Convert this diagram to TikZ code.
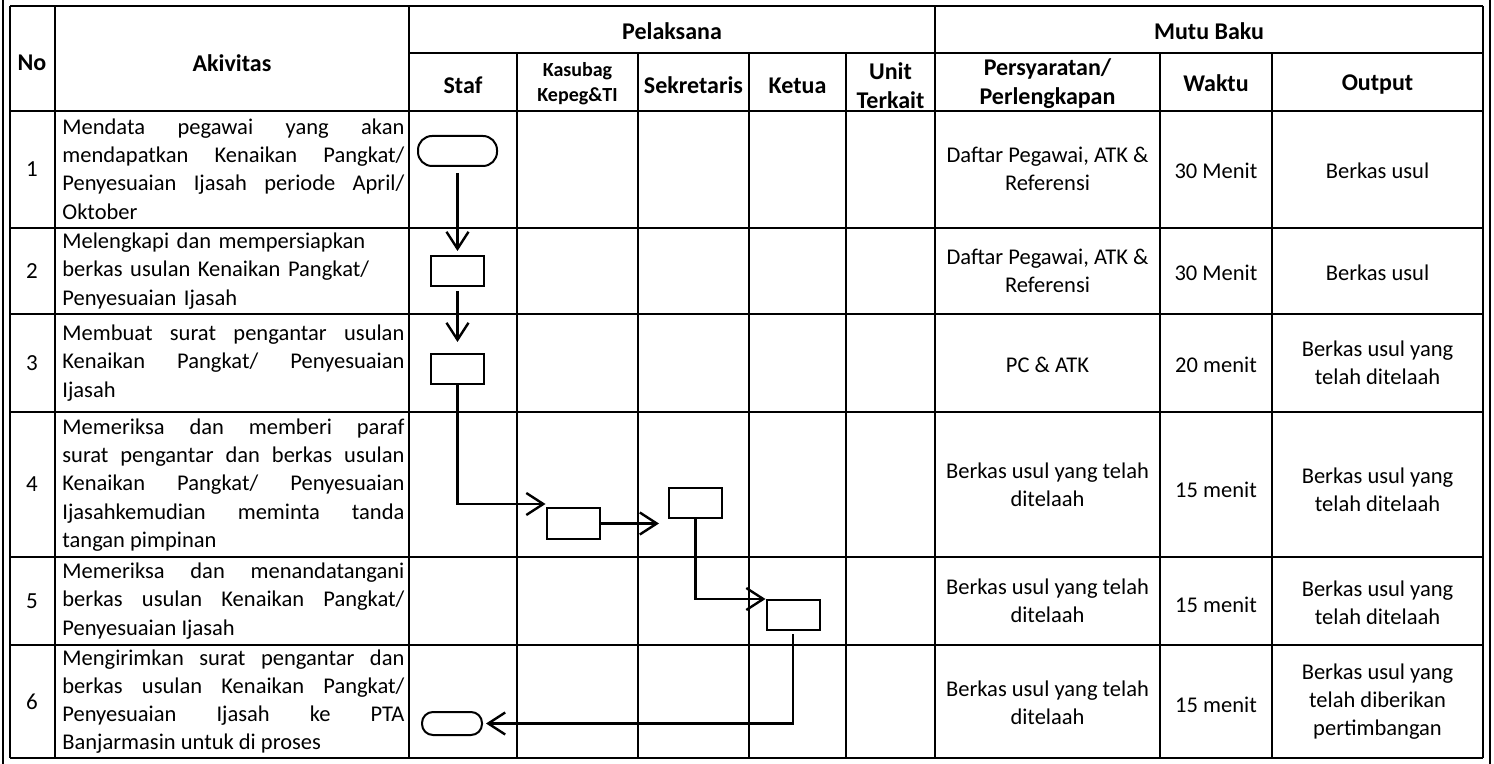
\documentclass[tikz,border=0pt]{standalone}
\usepackage{fontspec}
\setmainfont{Carlito}
\usetikzlibrary{arrows.meta}
\begin{document}
\begin{tikzpicture}[x=0.5pt,y=-0.5pt,
  gridline/.style={line width=1pt},
  hd/.style={font=\fontsize{12}{14.5}\selectfont\bfseries, align=center, inner sep=0pt},
  hdsmall/.style={font=\fontsize{10}{12.5}\selectfont\bfseries, align=center, inner sep=0pt},
  act/.style={font=\fontsize{11.25}{14.1}\selectfont, text width=171pt, align=justify, anchor=west, inner sep=0pt,
    execute at begin node={\tolerance=10000\hyphenpenalty=10000\hbadness=10000}},
  actl/.style={act, align=left},
  num/.style={font=\fontsize{11.5}{13.5}\selectfont, inner sep=0pt},
  cell/.style={font=\fontsize{11.25}{14}\selectfont, align=center, inner sep=0pt},
  proc/.style={draw, line width=1pt, minimum width=26.5pt, minimum height=15pt, inner sep=0pt},
  termA/.style={draw, line width=1pt, minimum width=39.5pt, minimum height=15pt, rounded corners=7pt, inner sep=0pt},
  termB/.style={draw, line width=1pt, minimum width=30pt, minimum height=11.5pt, rounded corners=5.5pt, inner sep=0pt},
  flow/.style={line width=1.2pt, -{Straight Barb[length=8.5pt,width=11pt]}}]
\useasboundingbox (0,0) rectangle (1494,764);
\fill[white] (0,0) rectangle (1494,764);
% outer page frame
\draw[gridline] (3,0) -- (3,764);
\draw[gridline] (1490,0) -- (1490,764);
% table grid
\foreach \yy in {6,111,228,314,412,557,645,758} \draw[gridline] (10,\yy) -- (1483,\yy);
\draw[gridline] (409,53) -- (1483,53);
\foreach \xx in {10,55,409,935,1483} \draw[gridline] (\xx,6) -- (\xx,758);
\foreach \xx in {517,638,749,846,1160,1272} \draw[gridline] (\xx,53) -- (\xx,758);
% headers
\node[hd] (hNo) at (32,63) {No};
\node[hd] (hAk) at (232,63) {Akivitas};
\node[hd] (hPel) at (672,31) {Pelaksana};
\node[hd] (hMut) at (1209,31) {Mutu Baku};
\node[hd] (hStaf) at (463,85) {Staf};
\node[hdsmall] (hKas) at (577.5,84) {Kasubag\\Kepeg\&TI};
\node[hd] (hSek) at (693.5,85) {Sekretaris};
\node[hd] (hKet) at (797.5,86) {Ketua};
\node[hd] (hUnit) at (890.5,86) {Unit\\Terkait};
\node[hd] (hPer) at (1047.5,84) {Persyaratan/\\Perlengkapan};
\node[hd] (hWak) at (1216,83) {Waktu};
\node[hd] (hOut) at (1377.5,85) {Output};
% numbers
\node[num] (n1) at (32,169) {1};
\node[num] (n2) at (32,271) {2};
\node[num] (n3) at (32,363) {3};
\node[num] (n4) at (32,484.5) {4};
\node[num] (n5) at (32,601) {5};
\node[num] (n6) at (32,701.5) {6};
% activities
\node[act] (a1) at (62,169) {Mendata pegawai yang akan\linebreak mendapatkan Kenaikan Pangkat/\linebreak Penyesuaian Ijasah periode April/\linebreak Oktober};
\node[actl] (a2) at (62,271) {Melengkapi dan mempersiapkan\\berkas usulan Kenaikan Pangkat/\\Penyesuaian Ijasah};
\node[act] (a3) at (62,363) {Membuat surat pengantar usulan\linebreak Kenaikan Pangkat/ Penyesuaian\linebreak Ijasah};
\node[act] (a4) at (62,485) {Memeriksa dan memberi paraf\linebreak surat pengantar dan berkas usulan\linebreak Kenaikan Pangkat/ Penyesuaian\linebreak Ijasahkemudian meminta tanda\linebreak tangan pimpinan};
\node[act] (a5) at (62,601) {Memeriksa dan menandatangani\linebreak berkas usulan Kenaikan Pangkat/\linebreak Penyesuaian Ijasah};
\node[act] (a6) at (62,701.5) {Mengirimkan surat pengantar dan\linebreak berkas usulan Kenaikan Pangkat/\linebreak Penyesuaian Ijasah ke PTA\linebreak Banjarmasin untuk di proses};
% mutu baku
\node[cell] (p1) at (1047.5,169) {Daftar Pegawai, ATK \&\\Referensi};
\node[cell] (w1) at (1216,171) {30 Menit};
\node[cell] (o1) at (1377.5,171) {Berkas usul};
\node[cell] (p2) at (1047.5,271) {Daftar Pegawai, ATK \&\\Referensi};
\node[cell] (w2) at (1216,273) {30 Menit};
\node[cell] (o2) at (1377.5,273) {Berkas usul};
\node[cell] (p3) at (1047.5,365) {PC \& ATK};
\node[cell] (w3) at (1216,365) {20 menit};
\node[cell] (o3) at (1377.5,363) {Berkas usul yang\\telah ditelaah};
\node[cell] (p4) at (1047.5,485) {Berkas usul yang telah\\ditelaah};
\node[cell] (w4) at (1216,490) {15 menit};
\node[cell] (o4) at (1377.5,490) {Berkas usul yang\\telah ditelaah};
\node[cell] (p5) at (1047.5,601) {Berkas usul yang telah\\ditelaah};
\node[cell] (w5) at (1216,605) {15 menit};
\node[cell] (o5) at (1377.5,603) {Berkas usul yang\\telah ditelaah};
\node[cell] (p6) at (1047.5,703) {Berkas usul yang telah\\ditelaah};
\node[cell] (w6) at (1216,705) {15 menit};
\node[cell] (o6) at (1377.5,701.5) {Berkas usul yang\\telah diberikan\\pertimbangan};
% flow shapes
\node[termA] (t1) at (457.5,151) {};
\node[proc] (b2) at (457.5,271) {};
\node[proc] (b3) at (457.5,369) {};
\node[proc, minimum height=15.5pt] (b4) at (573,523.5) {};
\node[proc] (b5) at (695.5,503) {};
\node[proc] (b6) at (793,615) {};
\node[termB] (t6) at (452,723.5) {};
% connectors
\draw[flow, shorten <=3pt, shorten >=2pt] (t1.south) -- (b2.north);
\draw[flow, shorten <=2pt, shorten >=5.5pt] (b2.south) -- (b3.north);
\draw[flow] (b3.south) |- ([yshift=1.5pt]b4.north west);
\draw[flow, shorten >=4.5pt] (b4.east) -- (b4.east -| b5.west);
\draw[flow] (b5.south) |- (b6.north west);
\draw[flow, shorten <=1.5pt, shorten >=1.5pt] (b6.south) |- (t6.east);
\end{tikzpicture}
\end{document}
